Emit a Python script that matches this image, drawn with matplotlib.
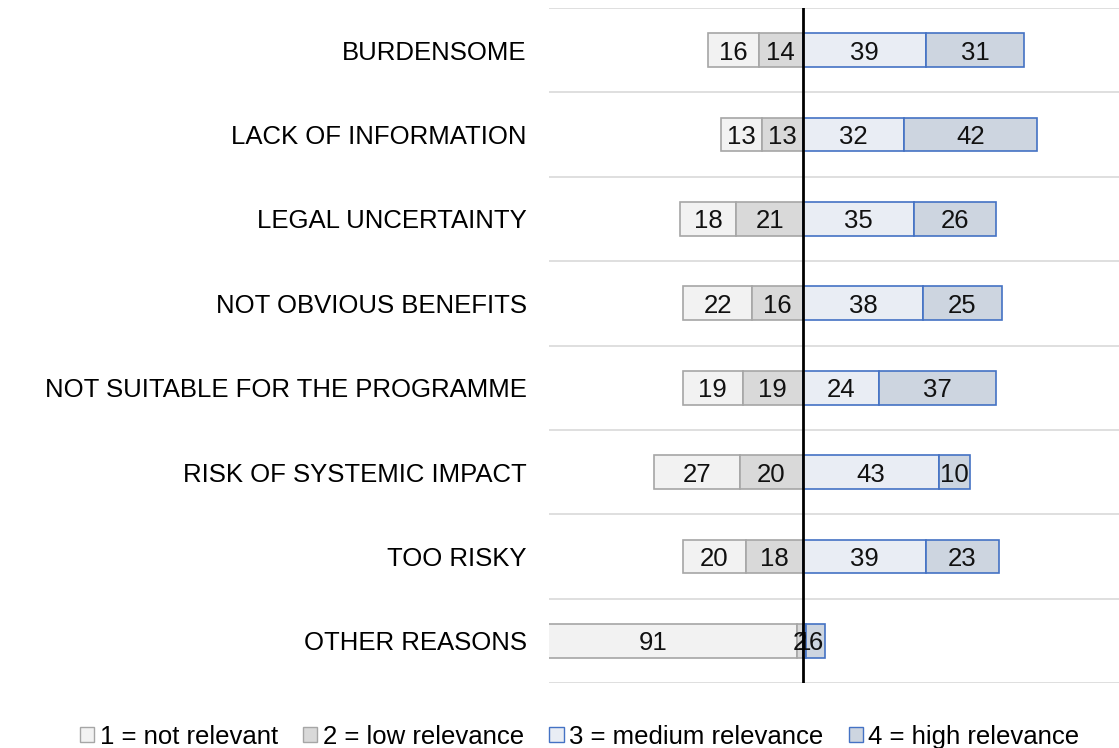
import matplotlib.pyplot as plt
import numpy as np
from matplotlib.patches import Patch

plt.rcParams['font.family'] = ['Liberation Sans', 'DejaVu Sans']

categories = ["BURDENSOME", "LACK OF INFORMATION", "LEGAL UNCERTAINTY",
              "NOT OBVIOUS BENEFITS", "NOT SUITABLE FOR THE PROGRAMME",
              "RISK OF SYSTEMIC IMPACT", "TOO RISKY", "OTHER REASONS"]
not_relevant = [16, 13, 18, 22, 19, 27, 20, 91]
low_relevance = [14, 13, 21, 16, 19, 20, 18, 2]
medium_relevance = [39, 32, 35, 38, 24, 43, 39, 1]
high_relevance = [31, 42, 26, 25, 37, 10, 23, 6]
legend_labels = ["1 = not relevant", "2 = low relevance",
                 "3 = medium relevance", "4 = high relevance"]

fills = ["#f2f2f2", "#d9d9d9", "#e9edf4", "#cdd5e0"]
edges = ["#a6a6a6", "#a6a6a6", "#4472c4", "#4472c4"]

fig = plt.figure(figsize=(11.19, 7.48), dpi=100)
ax = fig.add_axes([549/1119, 1-683/748, 570/1119, 675/748])

y = np.arange(len(categories))
nr = np.array(not_relevant)
lr = np.array(low_relevance)
mr = np.array(medium_relevance)
hr = np.array(high_relevance)

segs = [(-(nr+lr), nr), (-lr, lr), (np.zeros(len(y)), mr), (mr, hr)]
for i, (left, w) in enumerate(segs):
    ax.barh(y, w, left=left, height=0.4, color=fills[i], edgecolor=edges[i],
            linewidth=1.2, label=legend_labels[i])
    for yy, l, ww in zip(y, left, w):
        ax.text(l + ww/2, yy, str(ww), ha='center', va='center_baseline',
                fontsize=18.5, color='#111111')

ax.set_xlim(-80.3, 100)
ax.set_ylim(len(categories)-0.5, -0.5)
for b in np.arange(-0.5, len(categories)):
    ax.axhline(b, color='#d9d9d9', linewidth=1.2, zorder=0)
ax.axvline(0, color='black', linewidth=2, zorder=5)

ax.set_yticks(y)
ax.set_yticklabels(categories, fontsize=18.5)
ax.tick_params(axis='y', length=0, pad=16)
ax.set_xticks([])
for s in ax.spines.values():
    s.set_visible(False)

handles = [Patch(facecolor=fills[i], edgecolor=edges[i], linewidth=1) for i in range(4)]
fig.legend(handles, legend_labels, loc='lower center', bbox_to_anchor=(0.518, -0.032),
           ncol=4, frameon=False, fontsize=18.5, handlelength=0.55, handleheight=0.55,
           handletextpad=0.2, columnspacing=1.0)

fig.savefig("out.png", dpi=100)
